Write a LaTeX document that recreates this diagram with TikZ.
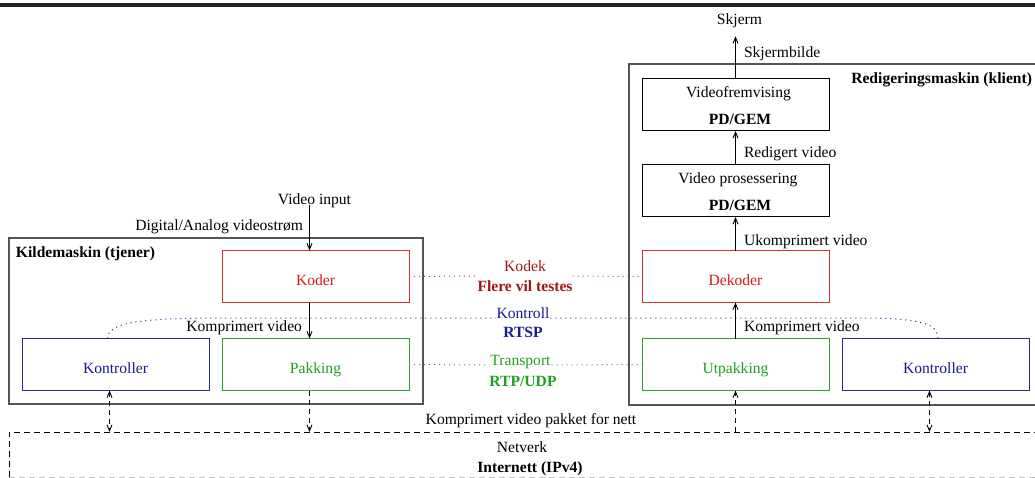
\documentclass[tikz,border=0pt]{standalone}
\usepackage{fontspec}
\setmainfont{Liberation Serif}
\usetikzlibrary{arrows.meta,calc}

\definecolor{boxred}{HTML}{D93030}
\definecolor{txtred}{HTML}{D81818}
\definecolor{darkred}{HTML}{A01818}
\definecolor{boxblue}{HTML}{2828A0}
\definecolor{txtblue}{HTML}{1A1A96}
\definecolor{boxgreen}{HTML}{30A030}
\definecolor{txtgreen}{HTML}{20A020}
\definecolor{frame}{HTML}{555555}
\definecolor{bar}{HTML}{222222}

\tikzset{
  txt/.style={font=\fontsize{15.6}{18}\selectfont, inner sep=0pt, outer sep=0pt},
  unit/.style={txt, draw, fill=white, line width=1pt, minimum width=187pt,
               minimum height=52pt, text height=17pt, text depth=0pt},
  redunit/.style={unit, draw=boxred, text=txtred},
  blueunit/.style={unit, draw=boxblue, text=txtblue},
  greenunit/.style={unit, draw=boxgreen, text=txtgreen},
  plainunit/.style={unit, draw=black},
  machine/.style={draw=frame, line width=1.2pt, inner sep=0pt, outer sep=0pt},
  tip/.style={},
  flow/.style={line width=0.9pt, -{Straight Barb[length=6pt,width=5pt]}},
  netflow/.style={flow, dash pattern=on 5pt off 4pt},
  netboth/.style={netflow, {Straight Barb[length=6pt,width=5pt]}-{Straight Barb[length=6pt,width=5pt]}},
  link/.style={line width=1pt, dash pattern=on 1pt off 4pt},
}

\begin{document}
\begin{tikzpicture}[x=1pt,y=-1pt]
\useasboundingbox (0,0) rectangle (1035,478);
\clip (0,0) rectangle (1035,478);

% heading rule
\fill[bar] (0,3.2) rectangle (1035,7.4);

% machines and network
\node[machine, minimum width=414pt, minimum height=166pt] (kilde) at (216,321) {};
\node[machine, minimum width=416pt, minimum height=341pt] (klient) at (837,234.5) {};
\node[inner sep=0pt, outer sep=0pt, minimum width=1036pt, minimum height=45pt] (nett) at (527,454.5) {};
\draw[dash pattern=on 6pt off 4pt, line width=1pt] (nett.south west) -- (nett.north west) -- (nett.north east);
\draw[dash pattern=on 6pt off 4pt, line width=1pt, black!25] (nett.south west) -- (nett.south east);

\node[txt, anchor=base west] (kildelbl) at (16,258) {\textbf{Kildemaskin (tjener)}};
\node[txt, anchor=base east] (klientlbl) at (1032,84) {\textbf{Redigeringsmaskin (klient)}};

% sender side
\node[redunit] (koder) at (315.5,276.5) {Koder};
\node[blueunit] (kontL) at (115.5,364.5) {Kontroller};
\node[greenunit] (pakking) at (315.5,364.5) {Pakking};

% receiver side
\node[plainunit] (vfrem) at (735.5,105) {};
\node[plainunit] (vpros) at (735.5,191) {};
\node[redunit] (dekoder) at (735.5,276.5) {Dekoder};
\node[greenunit] (utpakking) at (735.5,364.5) {Utpakking};
\node[blueunit] (kontR) at (935.5,364.5) {Kontroller};

\node[txt, anchor=base] (vfremA) at (738.5,98) {Videofremvising};
\node[txt, anchor=base] (vfremB) at (740,125) {\textbf{PD/GEM}};
\node[txt, anchor=base] (vprosA) at (738,184) {Video prosessering};
\node[txt, anchor=base] (vprosB) at (740,211) {\textbf{PD/GEM}};

% free texts
\node[txt, anchor=base] (vin) at (314.5,205) {Video input};
\node[txt, anchor=base east] (digital) at (303,231) {Digital/Analog videostrøm};
\node[txt, anchor=base] (skjerm) at (739.5,25) {Skjerm};
\node[txt, anchor=base west] (skjermbilde) at (744,58) {Skjermbilde};
\node[txt, anchor=base west] (redigert) at (744,158) {Redigert video};
\node[txt, anchor=base west] (ukompr) at (744,245) {Ukomprimert video};
\node[txt, anchor=base west] (komprR) at (744,331) {Komprimert video};
\node[txt, anchor=base east] (komprL) at (302,331) {Komprimert video};
\node[txt, anchor=base] (pakket) at (531,424) {Komprimert video pakket for nett};
\node[txt, anchor=base] (netverk) at (522,452) {Netverk};
\node[txt, anchor=base] (internett) at (530,472) {\textbf{Internett (IPv4)}};

% protocol labels
\node[txt, align=center, text=darkred] (kodek) at (525,276) {Kodek\\[2pt]\textbf{Flere vil testes}};
\node[txt, anchor=base, text=txtblue, inner xsep=1pt] (kontroll) at (523,318) {Kontroll};
\node[txt, anchor=base, text=txtblue] (rtsp) at (523,337) {\textbf{RTSP}};
\node[txt, anchor=base, text=txtgreen, inner xsep=1pt] (transport) at (520.5,365) {Transport};
\node[txt, anchor=base, text=txtgreen] (rtp) at (523,386) {\textbf{RTP/UDP}};

% protocol links
\draw[link, boxred] (koder.east) -- (kodek.west);
\draw[link, boxred] (kodek.east) -- (dekoder.west);
\coordinate (kl) at ([xshift=-8pt]kontL.north);
\coordinate (kr) at ([xshift=2.5pt]kontR.north);
\draw[link, txtblue] (kl) .. controls (108,322) and (140,318) .. (230,318) -- (kontroll.base west);
\draw[link, txtblue] (kontroll.base east) -- (860,318) .. controls (925,318) and (938,325) .. (kr);
\draw[link, boxgreen] (pakking.east) -- (transport.base west);
\draw[link, boxgreen] (transport.base east) -- (utpakking.west);

% data flow, sender
\coordinate (kin) at ([xshift=-6pt]koder.north);
\coordinate (kout) at ([xshift=-6pt]koder.south);
\coordinate (pin) at ([xshift=-6pt]pakking.north);
\coordinate (pout) at ([xshift=-6pt]pakking.south);
\coordinate (klout) at ([xshift=-6pt]kontL.south);
\coordinate (krout) at ([xshift=-6pt]kontR.south);
\draw[flow] (kin |- vin.base) -- (kin);
\draw[flow] (kout) -- (pin);
\draw[netflow] (pout) -- (pout |- nett.north);
\draw[netboth] (klout) -- (klout |- nett.north);

% data flow, receiver
\draw[netflow] (utpakking.south |- nett.north) -- (utpakking.south);
\draw[netboth] (krout) -- (krout |- nett.north);
\draw[flow] (utpakking.north) -- (dekoder.south);
\draw[flow] (dekoder.north) -- (vpros.south);
\draw[flow] (vpros.north) -- (vfrem.south);
\draw[flow, shorten >=8pt] (vfrem.north) -- (vfrem.north |- skjerm.south);
\end{tikzpicture}
\end{document}
